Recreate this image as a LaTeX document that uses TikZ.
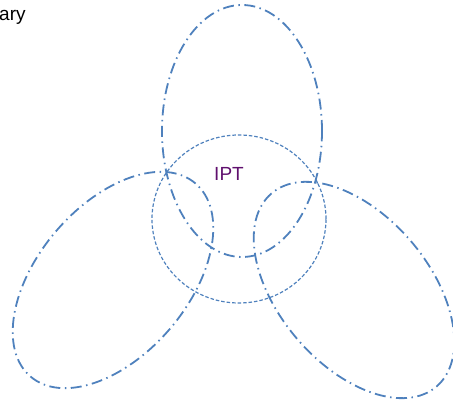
\documentclass[tikz,border=0pt]{standalone}
\usepackage{fontspec}
\setmainfont{Liberation Sans}
\definecolor{lineblue}{RGB}{79,129,189}
\definecolor{iptpurple}{RGB}{96,16,110}
\tikzset{
  petal/.style={draw=lineblue, line width=1.8pt, dash pattern=on 11pt off 4.5pt on 1.5pt off 4.5pt},
  hub/.style={draw=lineblue, line width=1.2pt, dash pattern=on 3.5pt off 2pt},
  label/.style={inner sep=0pt, font=\fontsize{19}{22}\selectfont}
}
\begin{document}
\begin{tikzpicture}[x=1pt,y=1pt]
\useasboundingbox (0,0) rectangle (453,401);
\path[petal] (242,270) ellipse [x radius=80, y radius=126];
\path[petal, rotate around={49.5:(113,121)}] (113,121) ellipse [x radius=127, y radius=75];
\path[petal, rotate around={-49.5:(354,111)}] (354,111) ellipse [x radius=127, y radius=75];
\path[hub] (239,182) ellipse [x radius=87, y radius=84];
\node[label, text=iptpurple, anchor=base] (ipt) at (229,220) {IPT};
\node[label, text=black, anchor=base west] (ary) at (-1,380) {ary};
\end{tikzpicture}
\end{document}
